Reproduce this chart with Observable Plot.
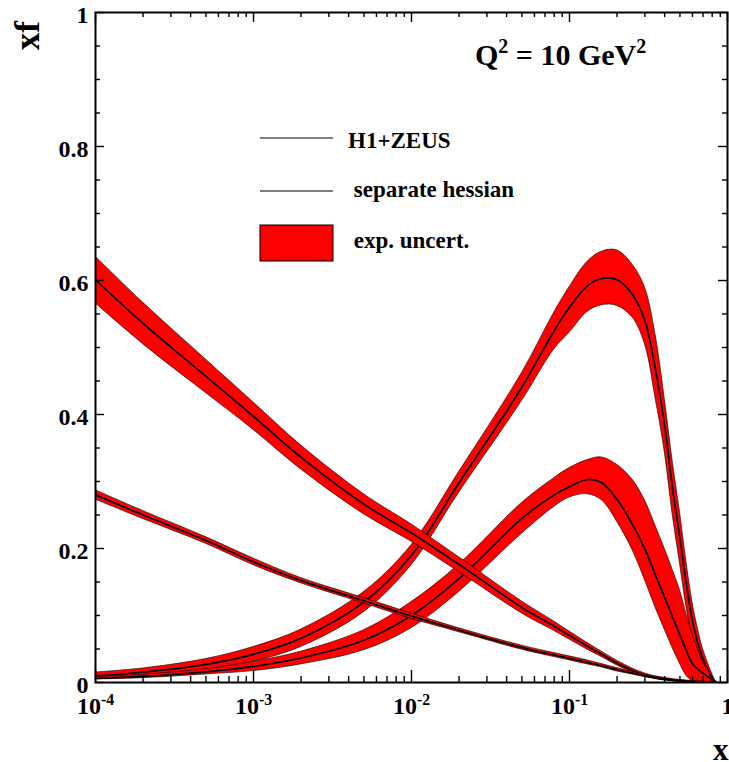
<!DOCTYPE html>
<html><head><meta charset="utf-8">
<script src="https://cdn.jsdelivr.net/npm/d3@7"></script>
<script src="https://cdn.jsdelivr.net/npm/@observablehq/plot@0.6"></script>
<style>
html,body{margin:0;padding:0;background:#fff;overflow:hidden}
</style></head><body><div id="chart"></div>
<script>
// ---- data (x grid shared by all curves) ----
const xValues = [0.0001, 0.0002, 0.0005, 0.001, 0.002, 0.005, 0.01, 0.02, 0.05, 0.08, 0.1, 0.13, 0.16, 0.2, 0.25, 0.3, 0.35, 0.4, 0.45, 0.5, 0.55, 0.6, 0.65, 0.7, 0.75, 0.8, 0.85];

// valence-u like curve (peak ~0.6)
const uvCentral = [0.010, 0.0153, 0.027, 0.042, 0.066, 0.120, 0.190, 0.298, 0.441, 0.525, 0.560, 0.592, 0.603, 0.601, 0.579, 0.540, 0.467, 0.384, 0.288, 0.215, 0.145, 0.092, 0.058, 0.035, 0.018, 0.007, 0];
const uvUpper   = [0.015, 0.021, 0.035, 0.053, 0.079, 0.135, 0.205, 0.314, 0.462, 0.552, 0.590, 0.628, 0.643, 0.645, 0.624, 0.590, 0.520, 0.425, 0.330, 0.255, 0.180, 0.120, 0.080, 0.050, 0.030, 0.013, 0];
const uvLower   = [0.006, 0.0095, 0.019, 0.031, 0.053, 0.105, 0.175, 0.283, 0.420, 0.497, 0.522, 0.553, 0.563, 0.562, 0.545, 0.505, 0.425, 0.345, 0.250, 0.178, 0.112, 0.066, 0.037, 0.020, 0.006, 0, 0];

// valence-d like curve (peak ~0.3)
const dvCentral = [0.006, 0.009, 0.016, 0.024, 0.0365, 0.063, 0.100, 0.155, 0.245, 0.280, 0.292, 0.303, 0.298, 0.273, 0.236, 0.199, 0.160, 0.127, 0.097, 0.071, 0.047, 0.028, 0.020, 0.014, 0.009, 0.004, 0];
const dvUpper   = [0.008, 0.0115, 0.020, 0.031, 0.046, 0.078, 0.120, 0.176, 0.268, 0.305, 0.320, 0.332, 0.336, 0.325, 0.303, 0.272, 0.234, 0.200, 0.168, 0.138, 0.102, 0.072, 0.050, 0.030, 0.020, 0.006, 0];
const dvLower   = [0.0045, 0.0065, 0.012, 0.017, 0.027, 0.048, 0.081, 0.135, 0.222, 0.262, 0.276, 0.281, 0.272, 0.240, 0.198, 0.153, 0.112, 0.079, 0.051, 0.028, 0.010, 0.002, 0, 0, 0, 0, 0];

// falling curve starting at ~0.6 (wide band)
const aCentral = [0.601, 0.536, 0.457, 0.397, 0.336, 0.266, 0.223, 0.176, 0.112, 0.084, 0.070, 0.054, 0.042, 0.029, 0.018, 0.011, 0.007, 0.0045, 0.003, 0.002, 0.0015, 0.001, 0.0007, 0.0005, 0.0002, 0, 0];
const aUpper   = [0.636, 0.567, 0.482, 0.418, 0.354, 0.281, 0.236, 0.187, 0.121, 0.091, 0.076, 0.059, 0.046, 0.0325, 0.021, 0.0135, 0.009, 0.006, 0.004, 0.003, 0.0023, 0.0016, 0.0012, 0.0009, 0.0004, 0, 0];
const aLower   = [0.566, 0.505, 0.432, 0.377, 0.318, 0.251, 0.210, 0.165, 0.103, 0.077, 0.064, 0.049, 0.038, 0.0255, 0.015, 0.0085, 0.005, 0.003, 0.002, 0.001, 0.0007, 0.0004, 0.0002, 0.0001, 0, 0, 0];

// falling curve starting at ~0.28 (narrow band)
const bCentral = [0.280, 0.250, 0.212, 0.180, 0.152, 0.122, 0.099, 0.078, 0.052, 0.041, 0.036, 0.030, 0.025, 0.019, 0.014, 0.010, 0.0075, 0.0055, 0.004, 0.003, 0.002, 0.0015, 0.001, 0.0008, 0.0004, 0.0002, 0];
const bUpper   = [0.287, 0.256, 0.217, 0.185, 0.156, 0.126, 0.103, 0.081, 0.055, 0.044, 0.039, 0.033, 0.0275, 0.0215, 0.016, 0.012, 0.009, 0.007, 0.005, 0.004, 0.003, 0.0023, 0.0016, 0.0013, 0.0007, 0.0004, 0];
const bLower   = [0.273, 0.244, 0.207, 0.175, 0.148, 0.118, 0.095, 0.075, 0.049, 0.038, 0.033, 0.027, 0.0225, 0.0165, 0.012, 0.008, 0.006, 0.004, 0.003, 0.002, 0.001, 0.0007, 0.0004, 0.0003, 0.0001, 0, 0];

// axis ticks & labels
const xMajorTicks = [1e-4, 1e-3, 1e-2, 1e-1, 1];
const xTickLabels = ["10^-4", "10^-3", "10^-2", "10^-1", "1"];
const yMajorTicks = [0, 0.2, 0.4, 0.6, 0.8, 1];
const yTickLabels = ["0", "0.2", "0.4", "0.6", "0.8", "1"];
const legendLabels = ["H1+ZEUS", " separate hessian", " exp. uncert."];

// ---- layout ----
const W = 729, H = 762, mL = 95, mR = 2, mT = 12, mB = 80;
const fw = W - mL - mR, fh = H - mT - mB;

const xMinorTicks = [];
for (const d of [1e-4, 1e-3, 1e-2, 1e-1]) for (let k = 2; k <= 9; k++) xMinorTicks.push(+(d * k).toPrecision(3));
const yMinorTicks = d3.range(1, 20).map(i => +(i * 0.05).toFixed(2)).filter(v => !yMajorTicks.includes(v));

const table = (c, lo, hi) => xValues.map((x, i) => ({x, c: c[i], lo: lo[i], hi: hi[i]}));
const curves = [
  table(uvCentral, uvLower, uvUpper),
  table(dvCentral, dvLower, dvUpper),
  table(aCentral, aLower, aUpper),
  table(bCentral, bLower, bUpper)
];

const bandMarks = curves.flatMap(t => [
  Plot.areaY(t, {x: "x", y1: "lo", y2: "hi", fill: "#ff0000", stroke: "black", strokeWidth: 0.6, curve: "catmull-rom", clip: true}),
  Plot.lineY(t, {x: "x", y: "c", stroke: "black", strokeWidth: 1.7, curve: "catmull-rom", clip: true})
]);

const tickStyle = {stroke: "black", strokeWidth: 1.4};
const plot = Plot.plot({
  width: W, height: H,
  marginLeft: mL, marginRight: mR, marginTop: mT, marginBottom: mB,
  style: {fontFamily: "'Liberation Serif', 'Times New Roman', serif", fontSize: "24px", fontWeight: "bold", background: "white", overflow: "visible"},
  x: {type: "log", domain: [1e-4, 1]},
  y: {domain: [0, 1]},
  marks: [
    ...bandMarks,
    // inward ticks, ROOT style
    Plot.tickX(xMajorTicks, {x: d => d, insetTop: fh - 12, ...tickStyle}),
    Plot.tickX(xMinorTicks, {x: d => d, insetTop: fh - 6, ...tickStyle}),
    Plot.tickX(xMajorTicks, {x: d => d, insetBottom: fh - 10, ...tickStyle}),
    Plot.tickX(xMinorTicks, {x: d => d, insetBottom: fh - 5, ...tickStyle}),
    Plot.tickY(yMajorTicks, {y: d => d, insetRight: fw - 9, ...tickStyle}),
    Plot.tickY(yMinorTicks, {y: d => d, insetRight: fw - 5, ...tickStyle}),
    Plot.tickY(yMajorTicks, {y: d => d, insetLeft: fw - 9, ...tickStyle}),
    Plot.tickY(yMinorTicks, {y: d => d, insetLeft: fw - 5, ...tickStyle}),
    Plot.frame({stroke: "black", strokeWidth: 2}),
    Plot.axisX({ticks: xMajorTicks, tickSize: 0, tickPadding: 14, label: null,
      tickFormat: d => xTickLabels[xMajorTicks.indexOf(d)]}),
    Plot.axisY({ticks: yMajorTicks, tickSize: 0, tickPadding: 7, dy: 3, label: null,
      tickFormat: d => yTickLabels[yMajorTicks.indexOf(d)]})
  ]
});

document.getElementById("chart").appendChild(plot);
const svg = d3.select(plot);

// superscripts for the log tick labels
svg.selectAll('g[aria-label="x-axis tick label"] text').each(function () {
  const t = this.textContent;
  if (t.includes("^")) {
    const [base, exp] = t.split("^");
    const s = d3.select(this);
    s.text(base);
    s.append("tspan").attr("dy", "-0.55em").attr("font-size", "0.66em").text(exp);
  }
});

const ann = svg.append("g")
  .attr("font-family", "'Liberation Serif', 'Times New Roman', serif")
  .attr("font-weight", "bold").attr("fill", "black").attr("text-anchor", "start");

// axis titles
ann.append("text").attr("transform", "translate(39,21) rotate(-90)").attr("text-anchor", "end").attr("font-size", 35).text("xf");
ann.append("text").attr("x", 713).attr("y", 760).attr("font-size", 31).text("x");

// Q^2 label
const q = ann.append("text").attr("x", 475).attr("y", 65).attr("font-size", 30);
q.append("tspan").text("Q");
q.append("tspan").attr("dy", -12).attr("font-size", 20).text("2");
q.append("tspan").attr("dy", 12).text(" = 10 GeV");
q.append("tspan").attr("dy", -12).attr("font-size", 20).text("2");

// legend
ann.append("line").attr("x1", 260).attr("x2", 333).attr("y1", 138).attr("y2", 138).attr("stroke", "black").attr("stroke-width", 1);
ann.append("line").attr("x1", 260).attr("x2", 333).attr("y1", 191).attr("y2", 191).attr("stroke", "black").attr("stroke-width", 1);
ann.append("rect").attr("x", 260).attr("y", 225).attr("width", 73).attr("height", 36).attr("fill", "#ff0000").attr("stroke", "black").attr("stroke-width", 1);
const ly = [148, 197, 248];
legendLabels.forEach((t, i) => {
  ann.append("text").attr("x", 348).attr("y", ly[i]).attr("font-size", 23).style("white-space", "pre").text(t);
});
</script></body></html>
